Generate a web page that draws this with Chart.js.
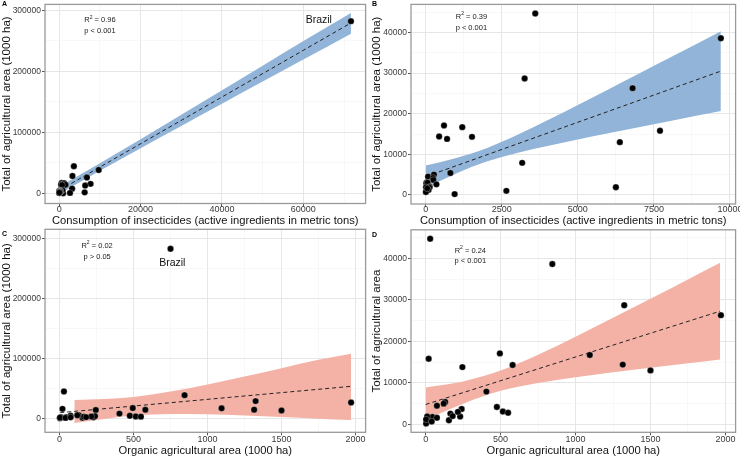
<!DOCTYPE html>
<html>
<head>
<meta charset="utf-8">
<script src="https://cdn.jsdelivr.net/npm/chart.js@4.4.1/dist/chart.umd.min.js"></script>
<style>
  body { margin: 0; background: #fff; width: 740px; height: 457px; overflow: hidden; position: relative; }
  canvas { position: absolute; }
</style>
</head>
<body>
<canvas id="panelA" width="370" height="232" style="left:0;top:0"></canvas>
<canvas id="panelB" width="370" height="232" style="left:370px;top:0"></canvas>
<canvas id="panelC" width="370" height="233" style="left:0;top:224px"></canvas>
<canvas id="panelD" width="370" height="233" style="left:370px;top:224px"></canvas>
<script>
// one entry per country, Brazil first
var insecticide = [71700, 9700, 3600, 3250, 6800, 7700, 6380, 6250, 3170, 2650, 950, 600, 1200, 1520, 440, 700,
                   810, 270, 75, 240, 250, 30, 20, 60, 350, 130, 120, 10, 90, 5, 50];
var organic = [750, 845, 30, 1325, 1970, 20, 1500, 230, 405, 155, 3, 495, 1095, 580, 1315, 245,
               130, 120, 75, 475, 240, 515, 550, 215, 165, 180, 45, 10, 3, 40, 75];
var totalArea = [282500, 38600, 44700, 28700, 26300, 15800, 13000, 1900, 7900, 1000, 200, 17100, 16700, 14300, 14400, 13800,
                 5400, 5000, 4500, 4200, 3700, 3100, 2800, 3000, 2600, 2000, 1800, 1900, 1200, 700, 1600];

// fitted line and confidence band
var bandAX = [0, 10000, 20000, 30000, 40000, 50000, 60000, 71700];
var bandALow = [-1000, 37100, 74300, 110800, 147300, 183500, 219500, 262000];
var bandAHigh = [11000, 49500, 88900, 129000, 169100, 209500, 250100, 296000];
var fitAX = [0, 71700];
var fitAY = [5000, 279600];

var bandBX = [0, 1000, 2000, 3000, 4000, 5000, 6000, 7000, 8000, 9700];
var bandBLow = [1750, 5270, 8210, 10340, 12060, 13640, 15170, 16670, 18150, 20650];
var bandBHigh = [7250, 9090, 11510, 14740, 18380, 22160, 25990, 29860, 33730, 40350];
var fitBX = [0, 9700];
var fitBY = [4500, 30500];

var bandCX = [100, 300, 500, 750, 1000, 1250, 1500, 1750, 1970];
var bandCLow = [-8000, -1000, 4500, 7000, 6600, 4600, 2000, -700, -3000];
var bandCHigh = [30500, 32000, 35650, 44600, 56500, 69800, 83550, 97500, 107500];
var fitCX = [5, 1970];
var fitCY = [9400, 53300];

var bandDX = [0, 250, 500, 750, 1000, 1250, 1500, 1750, 1965];
var bandDLow = [1200, 4980, 8080, 9970, 11340, 12530, 13630, 14700, 15610];
var bandDHigh = [8900, 10340, 12960, 16770, 21120, 25650, 30270, 34900, 38910];
var fitDX = [0, 1965];
var fitDY = [4800, 27260];

var ticksAX = [0, 20000, 40000, 60000];
var ticksAY = [0, 100000, 200000, 300000];
var ticksBX = [0, 2500, 5000, 7500, 10000];
var ticksBY = [0, 10000, 20000, 30000, 40000];
var ticksCX = [0, 500, 1000, 1500, 2000];
var ticksCY = [0, 100000, 200000, 300000];
var ticksDX = [0, 500, 1000, 1500, 2000];
var ticksDY = [0, 10000, 20000, 30000, 40000];

var FONT = '"Liberation Sans", Arial, Helvetica, sans-serif';
var BLUE = '#92b4d8';
var SALMON = '#f4b2a6';

function pairs(xs, ys) {
  return xs.map(function (x, i) { return { x: x, y: ys[i] }; });
}

// majors plus ggplot-style minor breaks half way between
function allTicks(majors, min, max) {
  var half = (majors[1] - majors[0]) / 2;
  var out = [];
  for (var v = Math.ceil(min / half) * half; v <= max; v += half) out.push({ value: v });
  return out;
}

function drawR2(ctx, cx, cy, r2) {
  ctx.font = '7.5px ' + FONT;
  var wR = ctx.measureText('R').width;
  var wRest = ctx.measureText(' = ' + r2).width;
  ctx.font = '5px ' + FONT;
  var w2 = ctx.measureText('2').width;
  var x = cx - (wR + w2 + wRest) / 2;
  ctx.textAlign = 'left';
  ctx.textBaseline = 'middle';
  ctx.font = '7.5px ' + FONT;
  ctx.fillText('R', x, cy);
  x += wR;
  ctx.font = '5px ' + FONT;
  ctx.fillText('2', x, cy - 3);
  x += w2;
  ctx.font = '7.5px ' + FONT;
  ctx.fillText(' = ' + r2, x, cy);
}

function makePanel(id, p) {
  var xMajor = new Set(p.xTicks), yMajor = new Set(p.yTicks);

  var decor = {
    id: 'decor',
    afterDraw: function (chart) {
      var ctx = chart.ctx, a = chart.chartArea;
      var sx = chart.scales.x, sy = chart.scales.y;
      ctx.save();
      ctx.strokeStyle = '#9a9a9a';
      ctx.lineWidth = 1.3;
      ctx.strokeRect(a.left, a.top, a.right - a.left, a.bottom - a.top);
      ctx.fillStyle = '#1a1a1a';
      drawR2(ctx, sx.getPixelForValue(p.note.x), sy.getPixelForValue(p.note.y1), p.note.r2);
      ctx.font = '7.5px ' + FONT;
      ctx.textAlign = 'center';
      ctx.fillText(p.note.p, sx.getPixelForValue(p.note.x), sy.getPixelForValue(p.note.y2));
      if (p.brazil) {
        ctx.font = '10.5px ' + FONT;
        ctx.fillStyle = '#111';
        ctx.fillText('Brazil', sx.getPixelForValue(p.brazil.x), sy.getPixelForValue(p.brazil.y));
      }
      ctx.font = 'bold 7px ' + FONT;
      ctx.textAlign = 'left';
      ctx.textBaseline = 'top';
      ctx.fillStyle = '#000';
      ctx.fillText(p.letter, 2, p.letterTop);
      ctx.restore();
    }
  };

  return new Chart(document.getElementById(id), {
    type: 'scatter',
    data: {
      datasets: [
        { data: pairs(p.xs, p.ys), pointRadius: 3.2, pointBackgroundColor: '#000',
          pointBorderColor: 'rgba(255,255,255,0.7)', pointBorderWidth: 0.4, order: 0 },
        { type: 'line', data: pairs(p.fitX, p.fitY), borderColor: '#222', borderWidth: 1,
          borderDash: [4, 3], pointRadius: 0, fill: false, order: 1 },
        { type: 'line', data: pairs(p.bandX, p.bandHigh), borderWidth: 0, pointRadius: 0,
          backgroundColor: p.band, fill: '+1', cubicInterpolationMode: 'monotone', order: 2 },
        { type: 'line', data: pairs(p.bandX, p.bandLow), borderWidth: 0, pointRadius: 0,
          fill: false, cubicInterpolationMode: 'monotone', order: 3 }
      ]
    },
    options: {
      responsive: false,
      animation: false,
      events: [],
      layout: { padding: { top: p.padTop, right: p.padRight, bottom: 0, left: 0 } },
      plugins: { legend: { display: false }, tooltip: { enabled: false } },
      scales: {
        x: {
          type: 'linear', min: p.xMin, max: p.xMax,
          afterBuildTicks: function (s) { s.ticks = allTicks(p.xTicks, p.xMin, p.xMax); },
          afterFit: function (s) { s.height = p.xH; s.paddingLeft = 0; s.paddingRight = 0; },
          border: { display: false },
          grid: {
            color: function (c) { return xMajor.has(c.tick.value) ? '#e6e6e6' : '#f3f3f3'; },
            lineWidth: function (c) { return xMajor.has(c.tick.value) ? 1 : 0.6; },
            tickLength: 3,
            tickColor: function (c) { return xMajor.has(c.tick.value) ? '#555' : 'rgba(0,0,0,0)'; }
          },
          ticks: {
            autoSkip: false, maxRotation: 0, minRotation: 0, padding: p.xTickPad,
            color: '#3a3a3a', font: { family: FONT, size: 9 },
            callback: function (v) { return xMajor.has(v) ? String(v) : ''; }
          },
          title: {
            display: true, text: p.xTitle, color: '#111',
            font: { family: FONT, size: 11.2, lineHeight: 1.2 },
            padding: { top: 0, bottom: p.xTitlePad }
          }
        },
        y: {
          type: 'linear', min: p.yMin, max: p.yMax,
          afterBuildTicks: function (s) { s.ticks = allTicks(p.yTicks, p.yMin, p.yMax); },
          afterFit: function (s) { s.width = p.yW; s.paddingTop = 0; s.paddingBottom = 0; },
          border: { display: false },
          grid: {
            color: function (c) { return yMajor.has(c.tick.value) ? '#e6e6e6' : '#f3f3f3'; },
            lineWidth: function (c) { return yMajor.has(c.tick.value) ? 1 : 0.6; },
            tickLength: 3,
            tickColor: function (c) { return yMajor.has(c.tick.value) ? '#555' : 'rgba(0,0,0,0)'; }
          },
          ticks: {
            autoSkip: false, padding: 1,
            color: '#3a3a3a', font: { family: FONT, size: 8.5 },
            callback: function (v) { return yMajor.has(v) ? String(v) : ''; }
          },
          title: {
            display: true, text: p.yTitle, color: '#111',
            font: { family: FONT, size: 11.5, lineHeight: 1.2 },
            padding: { top: 0.3, bottom: 0 }
          }
        }
      }
    },
    plugins: [decor]
  });
}

var insectTitle = 'Consumption of insecticides (active ingredients in metric tons)';
var organicTitle = 'Organic agricultural area (1000 ha)';
var areaTitle = 'Total of agricultural area (1000 ha)';

makePanel('panelA', {
  letter: 'A', letterTop: 1,
  xs: insecticide, ys: totalArea,
  bandX: bandAX, bandLow: bandALow, bandHigh: bandAHigh, fitX: fitAX, fitY: fitAY, band: BLUE,
  xMin: -3500, xMax: 75300, yMin: -16400, yMax: 310000,
  xTicks: ticksAX, yTicks: ticksAY,
  xTitle: insectTitle, yTitle: areaTitle,
  yW: 45, xH: 28.5, padTop: 1, padRight: 3, xTickPad: -2.7, xTitlePad: 4.2,
  note: { x: 10000, y1: 284000, y2: 265800, r2: '0.96', p: 'p < 0.001' },
  brazil: { x: 63800, y: 284000 }
});

makePanel('panelB', {
  letter: 'B', letterTop: 1,
  xs: insecticide.slice(1), ys: totalArea.slice(1),
  bandX: bandBX, bandLow: bandBLow, bandHigh: bandBHigh, fitX: fitBX, fitY: fitBY, band: BLUE,
  xMin: -485, xMax: 10185, yMin: -2240, yMax: 46940,
  xTicks: ticksBX, yTicks: ticksBY,
  xTitle: insectTitle, yTitle: areaTitle,
  yW: 41, xH: 28, padTop: 1, padRight: 3, xTickPad: -3.2, xTitlePad: 4.2,
  note: { x: 1500, y1: 43900, y2: 41200, r2: '0.39', p: 'p < 0.001' }
});

makePanel('panelC', {
  letter: 'C', letterTop: 7,
  xs: organic, ys: totalArea,
  bandX: bandCX, bandLow: bandCLow, bandHigh: bandCHigh, fitX: fitCX, fitY: fitCY, band: SALMON,
  xMin: -98, xMax: 2068, yMin: -23300, yMax: 315000,
  xTicks: ticksCX, yTicks: ticksCY,
  xTitle: organicTitle, yTitle: areaTitle,
  yW: 45, xH: 24.7, padTop: 5.3, padRight: 4, xTickPad: -1.5, xTitlePad: -1,
  note: { x: 254, y1: 287000, y2: 269000, r2: '0.02', p: 'p > 0.05' },
  brazil: { x: 762, y: 259000 }
});

makePanel('panelD', {
  letter: 'D', letterTop: 8,
  xs: organic.slice(1), ys: totalArea.slice(1),
  bandX: bandDX, bandLow: bandDLow, bandHigh: bandDHigh, fitX: fitDX, fitY: fitDY, band: SALMON,
  xMin: -98, xMax: 2068, yMin: -1900, yMax: 46850,
  xTicks: ticksDX, yTicks: ticksDY,
  xTitle: organicTitle, yTitle: 'Total of agricultural area',
  yW: 41, xH: 24.7, padTop: 5.8, padRight: 3, xTickPad: -1.5, xTitlePad: -1,
  note: { x: 298, y1: 41760, y2: 39350, r2: '0.24', p: 'p < 0.001' }
});
</script>
</body>
</html>
